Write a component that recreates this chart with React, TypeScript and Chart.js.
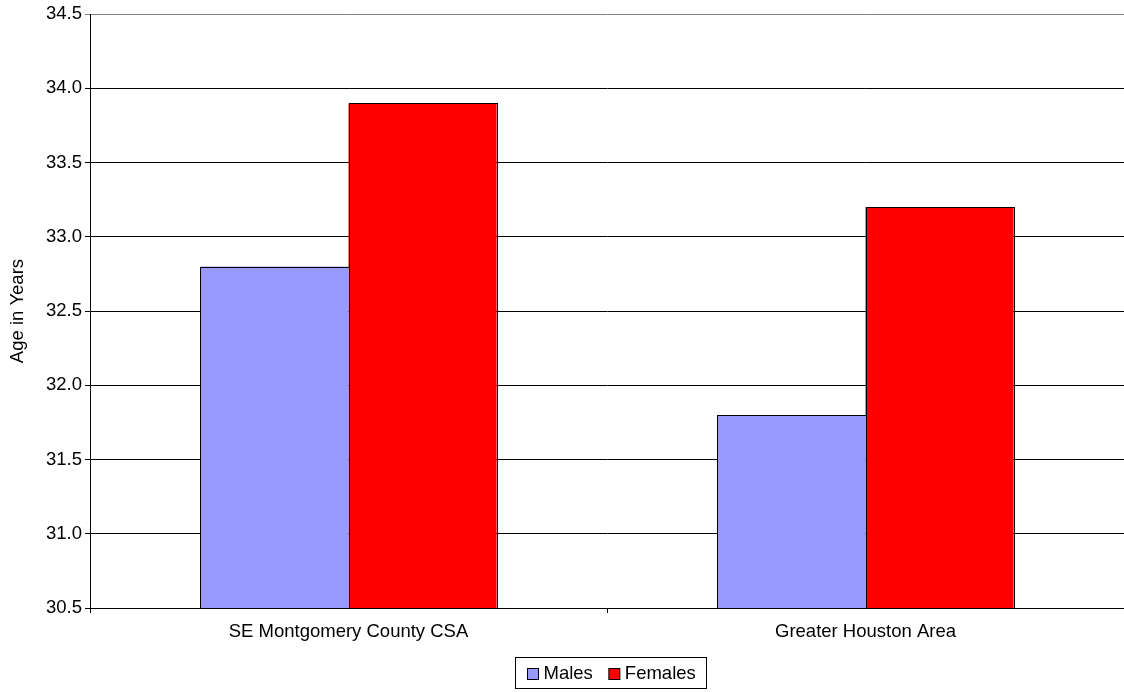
import React, { useEffect, useRef } from "react";
import { Chart, registerables } from "chart.js";

Chart.register(...registerables);

const categories = ["SE Montgomery County CSA", "Greater Houston Area"];
const seriesNames = ["Males", "Females"];
const malesValues = [32.8, 31.8];
const femalesValues = [33.9, 33.2];
const seriesColors = ["#9999FF", "#FF0000"];
const yMin = 30.5;
const yMax = 34.5;
const yStep = 0.5;
const yAxisTitle = "Age in Years";

const FONT_FAMILY = "'Liberation Sans', Arial, Helvetica, sans-serif";
const FONT_SIZE = 18.5;

const crispBarBorders = {
  id: "crispBarBorders",
  afterDatasetsDraw(chart: any) {
    const ctx = chart.ctx as CanvasRenderingContext2D;
    const area = chart.chartArea;
    ctx.save();
    ctx.strokeStyle = "#000";
    ctx.lineWidth = 1;
    chart.data.datasets.forEach((_: any, i: number) => {
      const meta = chart.getDatasetMeta(i);
      meta.data.forEach((bar: any) => {
        const { x, y, base, width } = bar.getProps(["x", "y", "base", "width"], true);
        const l = Math.round(x - width / 2) + 0.5;
        const r = Math.round(x + width / 2) + 0.5;
        const t = Math.round(Math.max(Math.min(y, base), area.top)) + 0.5;
        const b = Math.round(Math.min(Math.max(y, base), area.bottom)) + 0.5;
        ctx.strokeRect(l, t, r - l, b - t);
      });
    });
    ctx.restore();
  },
};

const boxedLegend = {
  id: "boxedLegend",
  afterDraw(chart: any) {
    const ctx = chart.ctx as CanvasRenderingContext2D;
    ctx.save();
    ctx.font = `${FONT_SIZE}px ${FONT_FAMILY}`;
    const items = chart.data.datasets.map((ds: any) => ({
      label: ds.label as string,
      color: ds.backgroundColor as string,
      w: ctx.measureText(ds.label).width,
    }));
    const padL = 12;
    const padR = 11;
    const box = 11;
    const gap = 5;
    const itemGap = 16;
    const total =
      padL +
      padR +
      items.reduce((s: number, it: any) => s + box + gap + it.w, 0) +
      itemGap * (items.length - 1);
    const cx = (chart.chartArea.left + chart.chartArea.right) / 2 + 4;
    const left = Math.round(cx - total / 2) + 0.5;
    const height = 31;
    const top = chart.height - 35 + 0.5;
    ctx.strokeStyle = "#000";
    ctx.lineWidth = 1;
    ctx.strokeRect(left, top, Math.round(total), height);
    let x = left + padL;
    const midY = top + height / 2;
    items.forEach((it: any, i: number) => {
      const by = Math.round(midY - box / 2) + 0.5;
      ctx.fillStyle = it.color;
      ctx.fillRect(x, by, box, box);
      ctx.strokeStyle = "#000";
      ctx.strokeRect(x, by, box, box);
      x += box + gap;
      ctx.fillStyle = "#000";
      ctx.textBaseline = "middle";
      ctx.textAlign = "left";
      ctx.fillText(it.label, x, midY + 1);
      x += it.w;
      if (i < items.length - 1) x += itemGap;
    });
    ctx.restore();
  },
};

export default function App() {
  const canvasRef = useRef<HTMLCanvasElement | null>(null);

  useEffect(() => {
    if (!canvasRef.current) return;
    Chart.defaults.font.family = FONT_FAMILY;
    Chart.defaults.font.size = FONT_SIZE;
    Chart.defaults.color = "#000";
    const chart = new Chart(canvasRef.current, {
      type: "bar",
      data: {
        labels: categories,
        datasets: [
          {
            label: seriesNames[0],
            data: malesValues,
            backgroundColor: seriesColors[0],
            borderWidth: 0,
          },
          {
            label: seriesNames[1],
            data: femalesValues,
            backgroundColor: seriesColors[1],
            borderWidth: 0,
          },
        ],
      },
      options: {
        animation: false,
        responsive: false,
        maintainAspectRatio: false,
        layout: { padding: { top: 14, right: 0, bottom: 44, left: 0 } },
        datasets: {
          bar: { categoryPercentage: 0.573, barPercentage: 1 },
        },
        plugins: {
          legend: { display: false },
          tooltip: { enabled: false },
        },
        scales: {
          x: {
            offset: true,
            grid: {
              offset: true,
              drawOnChartArea: false,
              drawTicks: true,
              tickLength: 5,
              color: "#000",
            },
            border: { color: "#000", width: 1 },
            ticks: { color: "#000", padding: 8, maxRotation: 0, autoSkip: false },
            afterFit: (scale: any) => {
              scale.height = 40;
            },
          },
          y: {
            min: yMin,
            max: yMax,
            ticks: {
              stepSize: yStep,
              color: "#000",
              padding: 3,
              callback: (v: any) => Number(v).toFixed(1),
            },
            grid: {
              color: (ctx: any) => (ctx.tick && ctx.tick.value === yMax ? "#808080" : "#000"),
              tickLength: 5,
              lineWidth: 1,
            },
            border: { color: "#000", width: 1 },
            title: {
              display: true,
              text: yAxisTitle,
              color: "#000",
              font: { size: FONT_SIZE },
              padding: { top: 7, bottom: 0 },
            },
            afterFit: (scale: any) => {
              scale.width = 90;
            },
          },
        },
      },
      plugins: [crispBarBorders, boxedLegend],
    });
    return () => chart.destroy();
  }, []);

  return (
    <div style={{ position: "fixed", left: 0, top: 0, width: 1124, height: 692, background: "#fff" }}>
      <canvas ref={canvasRef} width={1124} height={692} style={{ width: 1124, height: 692 }} />
    </div>
  );
}
